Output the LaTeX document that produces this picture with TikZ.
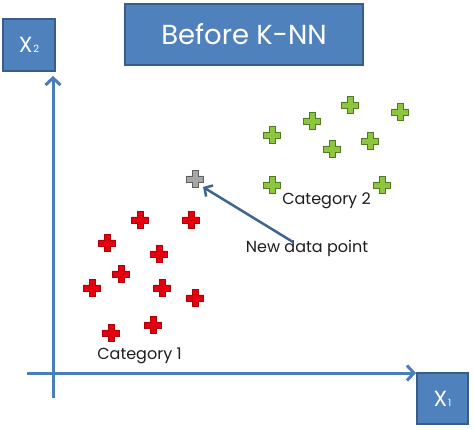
\documentclass[tikz,border=0pt]{standalone}
\usepackage{fontspec}
\setmainfont{Poppins}
\usetikzlibrary{arrows.meta}
\definecolor{boxblue}{HTML}{4F81BD}
\definecolor{boxedge}{HTML}{385D8A}
\definecolor{axisblue}{HTML}{4A7EBB}
\definecolor{arrowblue}{HTML}{3E6491}
\definecolor{redfill}{HTML}{E3000F}
\definecolor{rededge}{HTML}{B0000A}
\definecolor{greenfill}{HTML}{8CC63F}
\definecolor{greenedge}{HTML}{4F7A1F}
\definecolor{grayfill}{HTML}{A6A6A6}
\definecolor{grayedge}{HTML}{5F5F5F}
\definecolor{txt}{HTML}{1E1E1E}
\newcommand\pcross[3]{\draw[#3] (#1,#2) ++(-3,-8.5) -- ++(6,0) -- ++(0,5.5) -- ++(5.5,0) -- ++(0,6) -- ++(-5.5,0) -- ++(0,5.5) -- ++(-6,0) -- ++(0,-5.5) -- ++(-5.5,0) -- ++(0,-6) -- ++(5.5,0) -- cycle;}
\tikzset{
  bluebox/.style={draw=boxedge, fill=boxblue, line width=1.5pt, text=white, inner sep=0pt},
  lbl/.style={text=txt, inner sep=0pt, font=\fontsize{16}{16}\selectfont},
  axis/.style={draw=axisblue, line width=3pt, -{Straight Barb[length=7pt,width=15pt,line width=3pt]}},
  pointer/.style={draw=arrowblue, line width=2.5pt, -{Straight Barb[length=6pt,width=13pt,line width=2.5pt]}},
  redcross/.style={fill=redfill, draw=rededge, line width=0.8pt},
  greencross/.style={fill=greenfill, draw=greenedge, line width=0.8pt},
  graycross/.style={fill=grayfill, draw=grayedge, line width=0.8pt}
}
\begin{document}
\begin{tikzpicture}[x=1pt,y=-1pt]
\useasboundingbox[fill=white] (0,0) rectangle (474,430);
% boxes
\node[bluebox, minimum width=238pt, minimum height=61pt, font=\fontsize{27.5}{27.5}\selectfont] (title) at (244,34.5) {Before K-NN};
\node[bluebox, minimum width=52pt, minimum height=52pt, font=\fontsize{22}{22}\selectfont] (x2) at (29,45) {X\hspace{1pt}{\fontsize{10}{10}\selectfont 2}};
\node[bluebox, minimum width=51pt, minimum height=51pt, font=\fontsize{22}{22}\selectfont] (x1) at (442.5,398.5) {X\hspace{1pt}{\fontsize{10}{10}\selectfont 1}};
% axes
\coordinate (ybot) at (53,398);
\coordinate (ytop) at (53,76);
\coordinate (xleft) at (27,373);
\coordinate (xright) at (416,373);
\draw[axis] (ybot) -- (ytop);
\draw[axis] (xleft) -- (xright);
% green crosses
\pcross{272}{135}{greencross}
\pcross{312}{121}{greencross}
\pcross{350}{105}{greencross}
\pcross{400}{112}{greencross}
\pcross{332}{149}{greencross}
\pcross{370}{141}{greencross}
\pcross{272}{185}{greencross}
\pcross{382}{185}{greencross}
% red crosses
\pcross{140}{220}{redcross}
\pcross{191}{220}{redcross}
\pcross{107}{243}{redcross}
\pcross{159}{254}{redcross}
\pcross{121}{274}{redcross}
\pcross{92}{288}{redcross}
\pcross{162}{288}{redcross}
\pcross{195}{298}{redcross}
\pcross{153}{325}{redcross}
\pcross{111}{333}{redcross}
% new point
\pcross{195}{179}{graycross}
\coordinate (newpt) at (203,187);
% labels
\node[lbl] (cat2) at (326.5,201) {Category 2};
\node[lbl] (newlbl) at (307,248) {New data point};
\node[lbl] (cat1) at (139.5,356) {Category 1};
\coordinate (ptrstart) at (293,242);
\draw[pointer] (ptrstart) -- (newpt);
\end{tikzpicture}
\end{document}
